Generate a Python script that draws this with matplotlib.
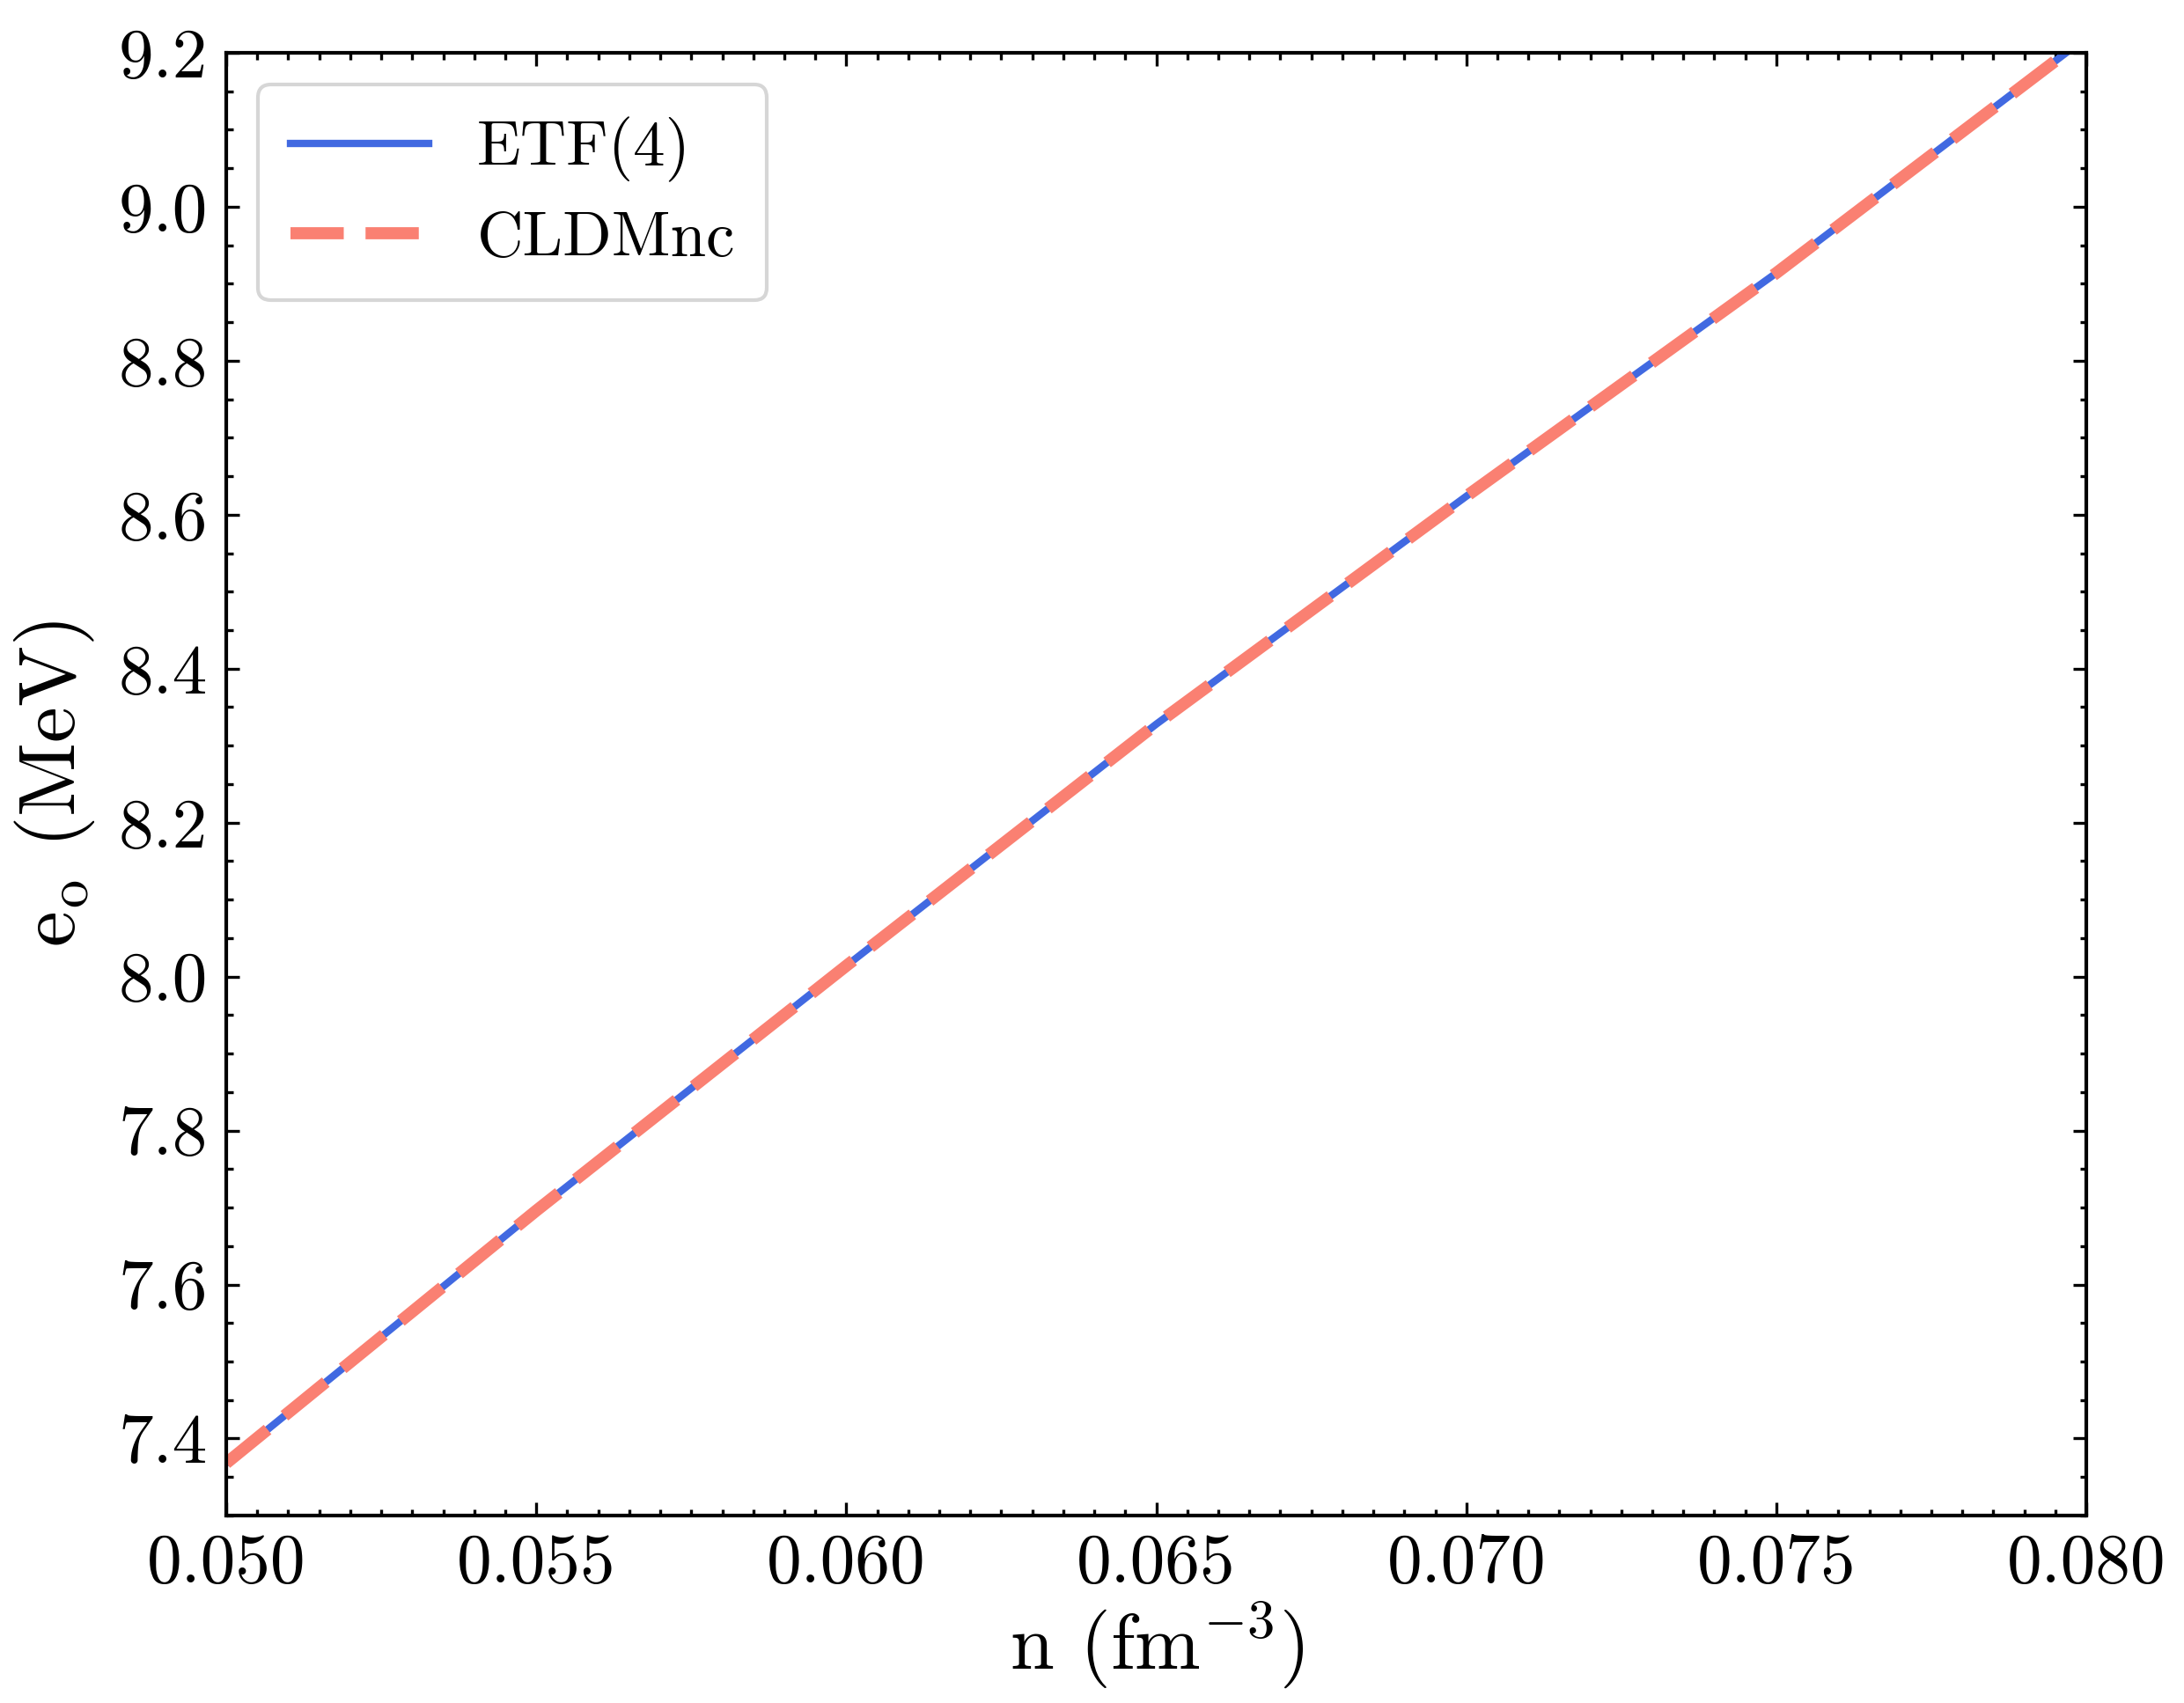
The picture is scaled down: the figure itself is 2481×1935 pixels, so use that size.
import numpy as np
import matplotlib
matplotlib.use('Agg')
import matplotlib.pyplot as plt
from matplotlib.ticker import MultipleLocator, FormatStrFormatter

plt.rcParams['font.family'] = 'serif'
plt.rcParams['font.serif'] = ['cmr10']
plt.rcParams['mathtext.fontset'] = 'cm'
plt.rcParams['axes.formatter.use_mathtext'] = True

# values
n = [0.050, 0.055, 0.060, 0.065, 0.070, 0.075, 0.080]
e_etf = [7.368, 7.696, 8.014, 8.328, 8.624, 8.914, 9.22]
e_cldm = [7.368, 7.696, 8.014, 8.328, 8.624, 8.914, 9.22]

fig = plt.figure(figsize=(8.27, 6.45), dpi=300)
ax = fig.add_axes([0.1036, 0.1101, 0.8517, 0.8589])

ax.plot(n, e_etf, color='royalblue', lw=2.0, label='ETF(4)')
ax.plot(n, e_cldm, color='salmon', lw=3.3, ls=(0, (4.4, 1.8)), label='CLDMnc')

ax.set_xlim(0.050, 0.080)
ax.set_ylim(7.3, 9.2)
ax.xaxis.set_major_locator(MultipleLocator(0.005))
ax.xaxis.set_minor_locator(MultipleLocator(0.0005))
ax.yaxis.set_major_locator(MultipleLocator(0.2))
ax.yaxis.set_minor_locator(MultipleLocator(0.05))
ax.xaxis.set_major_formatter(FormatStrFormatter('%.3f'))
ax.yaxis.set_major_formatter(FormatStrFormatter('%.1f'))

ax.tick_params(which='both', direction='in', top=True, right=True, width=0.8)
ax.tick_params(which='major', length=3.5, labelsize=19, pad=5)
ax.tick_params(which='minor', length=1.8)
for s in ax.spines.values():
    s.set_linewidth(1.0)

ax.set_xlabel('n (fm$^{-3}$)', fontsize=21.5, labelpad=1)
ax.set_ylabel(r'e$_\mathrm{o}$ (MeV)', fontsize=22, labelpad=6)

ax.legend(loc='upper left', fontsize=17.5, handlelength=2.15, handletextpad=0.75,
          borderaxespad=0.5, labelspacing=0.45, borderpad=0.5)

fig.savefig('out.png', dpi=300)
